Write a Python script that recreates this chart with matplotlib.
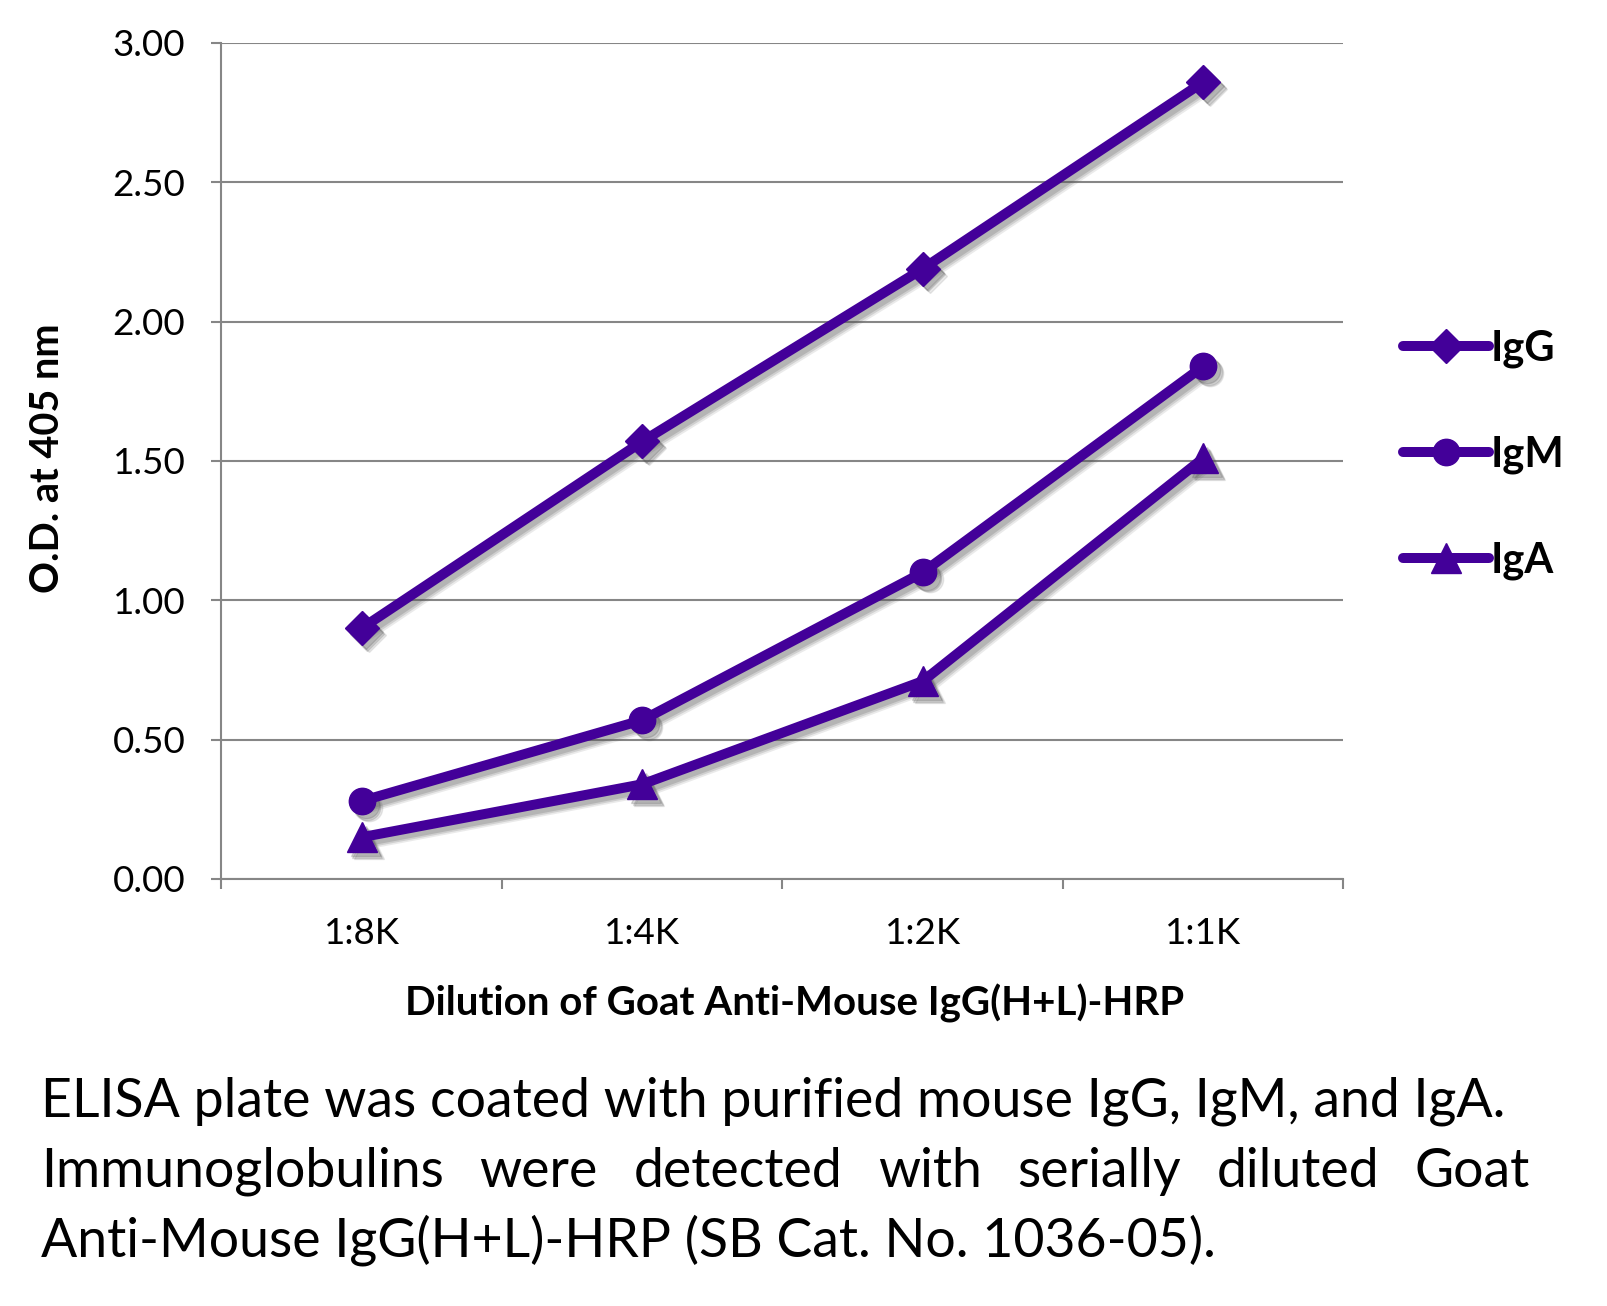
import matplotlib
matplotlib.use('Agg')
import matplotlib.pyplot as plt
from matplotlib.transforms import ScaledTranslation

# Data
dilutions = ['1:8K', '1:4K', '1:2K', '1:1K']
igg = [0.90, 1.57, 2.19, 2.86]
igm = [0.28, 0.57, 1.10, 1.84]
iga = [0.15, 0.34, 0.71, 1.51]
series_names = ['IgG', 'IgM', 'IgA']
yticks = [0.0, 0.5, 1.0, 1.5, 2.0, 2.5, 3.0]

caption = ["ELISA plate was coated with purified mouse IgG, IgM, and IgA.",
           "Immunoglobulins were detected with serially diluted Goat",
           "Anti-Mouse IgG(H+L)-HRP (SB Cat. No. 1036-05)."]

purple = '#430099'
grey = '#868686'
font = 'Lato'

W, H = 1608, 1306
fig = plt.figure(figsize=(W / 100, H / 100), dpi=100)
ax = fig.add_axes([221.5 / W, 1 - 879 / H, (1343.5 - 221.5) / W, (879 - 43) / H])

x = list(range(len(dilutions)))
markers = ['D', 'o', '^']
sizes = [17, 19, 21]
for vals, m, ms, name in zip([igg, igm, iga], markers, sizes, series_names):
    # soft drop shadow, a few offset layers
    for off, a in [(5, 0.12), (4, 0.18), (3, 0.22)]:
        shadow = ax.transData + ScaledTranslation(off / 72, -off / 72, fig.dpi_scale_trans)
        ax.plot(x, vals, color='#555555', lw=7.2, marker=m, ms=ms, alpha=a,
                transform=shadow, zorder=2, solid_capstyle='round')
    ax.plot(x, vals, color=purple, lw=7.2, marker=m, ms=ms, label=name,
            zorder=3, solid_capstyle='round')

ax.set_xlim(-0.5, 3.5)
ax.set_ylim(0, 3)
ax.set_yticks(yticks)
ax.set_yticklabels([f'{v:.2f}' for v in yticks], fontsize=26.5, family=font)
ax.set_xticks(x)
ax.set_xticklabels(dilutions, fontsize=26.5, family=font)
ax.set_xticks([-0.5, 0.5, 1.5, 2.5, 3.5], minor=True)
ax.tick_params(axis='x', which='major', length=0, pad=27)
ax.tick_params(axis='x', which='minor', length=7, width=1.5, color=grey)
ax.tick_params(axis='y', length=7, width=1.5, color=grey, pad=19)
ax.grid(axis='y', color=grey, lw=1.5)
ax.set_axisbelow(True)
for s in ['top', 'right']:
    ax.spines[s].set_visible(False)
for s in ['left', 'bottom']:
    ax.spines[s].set_color(grey)
    ax.spines[s].set_linewidth(1.5)

handles, labels = ax.get_legend_handles_labels()
leg = ax.legend(handles, labels, loc='center left',
                bbox_to_anchor=(1366 / W, 1 - 455 / H),
                bbox_transform=fig.transFigure, frameon=False,
                prop={'family': font, 'weight': 'bold', 'size': 30},
                handlelength=2.05, handletextpad=0.05, labelspacing=1.62)

fig.text(48 / W, 1 - 458 / H, 'O.D. at 405 nm', rotation=90, ha='center',
         va='center', fontsize=28.5, fontweight='bold', family=font)
fig.text(795 / W, 1 - 1003 / H, 'Dilution of Goat Anti-Mouse IgG(H+L)-HRP',
         ha='center', va='center', fontsize=29, fontweight='bold', family=font)

# caption, second line justified
renderer = fig.canvas.get_renderer()
left, right = 41 / W, 1530 / W
baselines = [1116, 1187, 1256]
for i, (line, yb) in enumerate(zip(caption, baselines)):
    yf = 1 - yb / H
    if i != 1:
        fig.text(left, yf, line, fontsize=38.6, family=font, va='baseline')
        continue
    words = line.split()
    texts = [fig.text(0, yf, w, fontsize=38.6, family=font, va='baseline') for w in words]
    widths = [t.get_window_extent(renderer).width / W for t in texts]
    gap = (right - left - sum(widths)) / (len(words) - 1)
    xpos = left
    for t, w in zip(texts, widths):
        t.set_x(xpos)
        xpos += w + gap

fig.savefig('out.png', dpi=100)
